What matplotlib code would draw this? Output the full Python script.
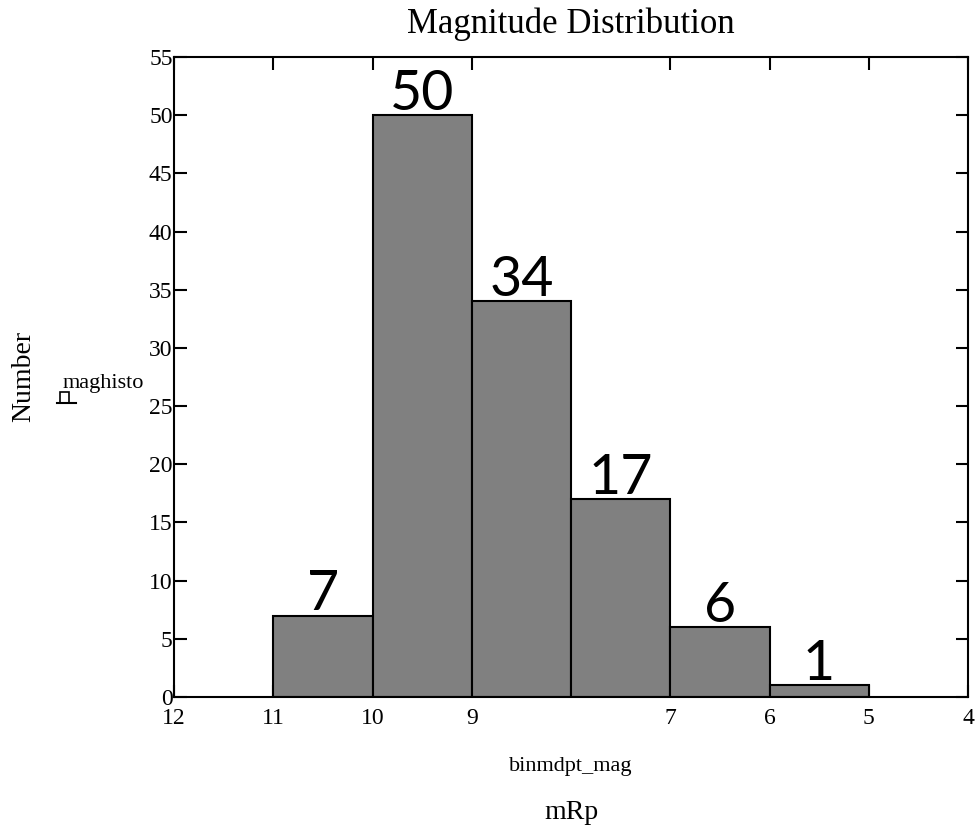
import matplotlib.pyplot as plt
from matplotlib.patches import Rectangle
from matplotlib.lines import Line2D

# data
bin_left = [11, 10, 9, 8, 7, 6]
bin_right = [10, 9, 8, 7, 6, 5]
counts = [7, 50, 34, 17, 6, 1]
x_ticks = [12, 11, 10, 9, 7, 6, 5, 4]
y_ticks = list(range(0, 56, 5))

W, H = 977, 830
fig = plt.figure(figsize=(W / 100, H / 100), dpi=100)
ax = fig.add_axes([174 / W, 1 - 697 / H, (968 - 174) / W, (697 - 57) / H])

serif = ["Liberation Serif", "DejaVu Serif"]

centers = [(l + r) / 2 for l, r in zip(bin_left, bin_right)]
widths = [l - r for l, r in zip(bin_left, bin_right)]
ax.bar(centers, counts, width=widths, color="#808080", edgecolor="black", linewidth=1.5, zorder=2)

for c, n in zip(centers, counts):
    ax.annotate(str(n), (c, n), xytext=(0, 4), textcoords="offset points",
                ha="center", va="baseline", fontsize=40, family=["Lato", "DejaVu Sans"])

ax.set_xlim(12, 4)
ax.set_ylim(0, 55)
ax.set_xticks(x_ticks)
ax.set_yticks(y_ticks)
ax.tick_params(direction="in", length=9, width=1.5, top=True, right=True,
               labelsize=17, zorder=1)
ax.tick_params(axis="x", pad=8)
ax.tick_params(axis="y", pad=1)
for lab in ax.get_xticklabels() + ax.get_yticklabels():
    lab.set_family(serif)
for s in ax.spines.values():
    s.set_linewidth(1.5)
    s.set_zorder(3)

ax.set_title("Magnitude Distribution", fontsize=25, family=serif, pad=17)
ax.set_xlabel("binmdpt_mag", fontsize=16, family=serif, labelpad=20)

fig.text(571 / W, 1 - 812 / H, "mRp", fontsize=20, family=serif, ha="center", va="center")
fig.text(24 / W, 1 - 376 / H, "Number", fontsize=20, family=serif, rotation=90,
         ha="center", va="center")
fig.text(63 / W, 1 - 388 / H, "maghisto", fontsize=16, family=serif, ha="left", va="baseline")

# little placeholder glyph next to the y label
fig.add_artist(Rectangle((60 / W, 1 - 403 / H), 9 / W, 11 / H, transform=fig.transFigure,
                         fill=False, edgecolor="black", linewidth=1.2))
fig.add_artist(Line2D([57 / W, 76 / W], [1 - 403 / H, 1 - 403 / H], transform=fig.transFigure,
                      color="black", linewidth=1.5))

fig.savefig("out.png", dpi=100)
